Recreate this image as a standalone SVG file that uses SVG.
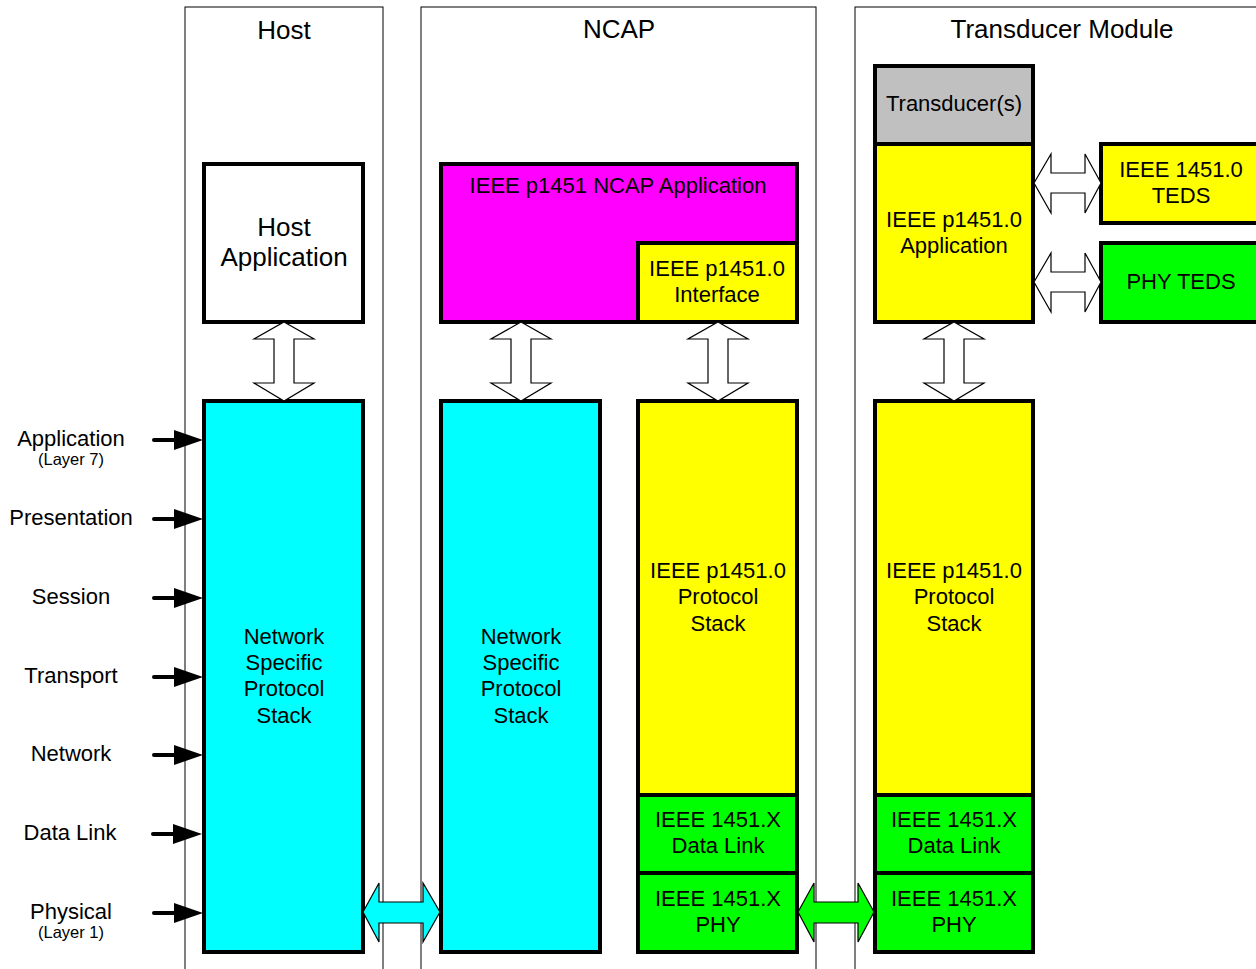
<svg xmlns="http://www.w3.org/2000/svg" width="1256" height="969" viewBox="0 0 1256 969">
<style>
text{font-family:"Liberation Sans",Arial,sans-serif;fill:#000;text-anchor:middle}
.t22{font-size:22px}
.t26{font-size:26px}
.t16{font-size:16.5px}
.frame{fill:none;stroke:#000;stroke-width:1}
.box{stroke:#000;stroke-width:4}
.cyan{fill:#00FFFF}.yellow{fill:#FFFF00}.mag{fill:#FF00FF}.green{fill:#00FF00}.gray{fill:#C0C0C0}.white{fill:#FFFFFF}
.hollow{fill:#FFFFFF;stroke:#000;stroke-width:1.2}
.harrow{stroke:#000;stroke-width:1.2}
</style>
<defs>
<g id="layerArrow"><line x1="1" y1="0" x2="24" y2="0" stroke="#000" stroke-width="4" stroke-linecap="round"/><polygon points="21,-10 50,0 21,10" fill="#000"/></g>
<path id="vArrow" d="M0,0 L30,17 L10,17 L10,61 L30,61 L0,79 L-30,61 L-10,61 L-10,17 L-30,17 Z"/>
</defs>
<g id="frames">
<rect class="frame" x="185" y="7" width="198" height="980"/>
<rect class="frame" x="421" y="7" width="395" height="980"/>
<rect class="frame" x="855" y="7" width="420" height="980"/>
<text class="t26" x="284" y="39">Host</text>
<text class="t26" x="619" y="38">NCAP</text>
<text class="t26" x="1062" y="38">Transducer Module</text>
</g>
<g id="layers">
<text class="t22" x="71" y="446">Application</text>
<text class="t16" x="71" y="465">(Layer 7)</text>
<text class="t22" x="71" y="525">Presentation</text>
<text class="t22" x="71" y="604">Session</text>
<text class="t22" x="71" y="683">Transport</text>
<text class="t22" x="71" y="761">Network</text>
<text class="t22" x="70" y="840">Data Link</text>
<text class="t22" x="71" y="919">Physical</text>
<text class="t16" x="71" y="938">(Layer 1)</text>
</g>
<g id="host-app"><rect class="box white" x="204" y="164" width="159" height="158"/>
<text class="t26" x="284" y="236">Host</text><text class="t26" x="284" y="266">Application</text></g>
<g id="host-stack"><rect class="box cyan" x="204" y="401" width="159" height="551"/>
<text class="t22" x="284" y="644">Network</text><text class="t22" x="284" y="670">Specific</text><text class="t22" x="284" y="696">Protocol</text><text class="t22" x="284" y="723">Stack</text></g>
<g id="ncap-app"><rect class="box mag" x="441" y="164" width="356" height="158"/>
<text class="t22" x="618" y="193">IEEE p1451 NCAP Application</text></g>
<g id="ncap-interface"><rect class="box yellow" x="638" y="243" width="159" height="79"/>
<text class="t22" x="717" y="276">IEEE p1451.0</text><text class="t22" x="717" y="302">Interface</text></g>
<g id="ncap-stack"><rect class="box cyan" x="441" y="401" width="159" height="551"/>
<text class="t22" x="521" y="644">Network</text><text class="t22" x="521" y="670">Specific</text><text class="t22" x="521" y="696">Protocol</text><text class="t22" x="521" y="723">Stack</text></g>
<g id="ncap-protocol"><rect class="box yellow" x="638" y="401" width="159" height="394"/>
<text class="t22" x="718" y="578">IEEE p1451.0</text><text class="t22" x="718" y="604">Protocol</text><text class="t22" x="718" y="631">Stack</text></g>
<g id="ncap-datalink"><rect class="box green" x="638" y="795" width="159" height="78"/>
<text class="t22" x="718" y="827">IEEE 1451.X</text><text class="t22" x="718" y="853">Data Link</text></g>
<g id="ncap-phy"><rect class="box green" x="638" y="873" width="159" height="79"/>
<text class="t22" x="718" y="906">IEEE 1451.X</text><text class="t22" x="718" y="932">PHY</text></g>
<g id="transducers"><rect class="box gray" x="875" y="66" width="158" height="78"/>
<text class="t22" x="954" y="111">Transducer(s)</text></g>
<g id="tm-app"><rect class="box yellow" x="875" y="144" width="158" height="178"/>
<text class="t22" x="954" y="227">IEEE p1451.0</text><text class="t22" x="954" y="253">Application</text></g>
<g id="teds"><rect class="box yellow" x="1101" y="144" width="162" height="79"/>
<text class="t22" x="1181" y="177">IEEE 1451.0</text><text class="t22" x="1181" y="203">TEDS</text></g>
<g id="phy-teds"><rect class="box green" x="1101" y="243" width="162" height="79"/>
<text class="t22" x="1181" y="289">PHY TEDS</text></g>
<g id="tm-protocol"><rect class="box yellow" x="875" y="401" width="158" height="394"/>
<text class="t22" x="954" y="578">IEEE p1451.0</text><text class="t22" x="954" y="604">Protocol</text><text class="t22" x="954" y="631">Stack</text></g>
<g id="tm-datalink"><rect class="box green" x="875" y="795" width="158" height="78"/>
<text class="t22" x="954" y="827">IEEE 1451.X</text><text class="t22" x="954" y="853">Data Link</text></g>
<g id="tm-phy"><rect class="box green" x="875" y="873" width="158" height="79"/>
<text class="t22" x="954" y="906">IEEE 1451.X</text><text class="t22" x="954" y="932">PHY</text></g>
<g id="connectors">
<use href="#layerArrow" x="153" y="440"/>
<use href="#layerArrow" x="153" y="519"/>
<use href="#layerArrow" x="153" y="598"/>
<use href="#layerArrow" x="153" y="677"/>
<use href="#layerArrow" x="153" y="755"/>
<use href="#layerArrow" x="152" y="834"/>
<use href="#layerArrow" x="153" y="913"/>
<use href="#vArrow" class="hollow" x="284" y="322"/>
<use href="#vArrow" class="hollow" x="521" y="322"/>
<use href="#vArrow" class="hollow" x="718" y="322"/>
<use href="#vArrow" class="hollow" x="954" y="322"/>
<path class="hollow" d="M1034,183 L1051,154 L1051,173 L1085,173 L1085,154 L1101,183 L1085,213 L1085,193 L1051,193 L1051,213 Z"/>
<path class="hollow" d="M1034,282 L1051,253 L1051,272 L1085,272 L1085,253 L1101,282 L1085,312 L1085,292 L1051,292 L1051,312 Z"/>
<path class="harrow cyan" d="M363,912 L379,883 L379,902 L423,902 L423,883 L440,912 L423,942 L423,923 L379,923 L379,942 Z"/>
<path class="harrow green" d="M798,912 L814,883 L814,902 L858,902 L858,883 L874,912 L858,942 L858,923 L814,923 L814,942 Z"/>
</g>
</svg>
